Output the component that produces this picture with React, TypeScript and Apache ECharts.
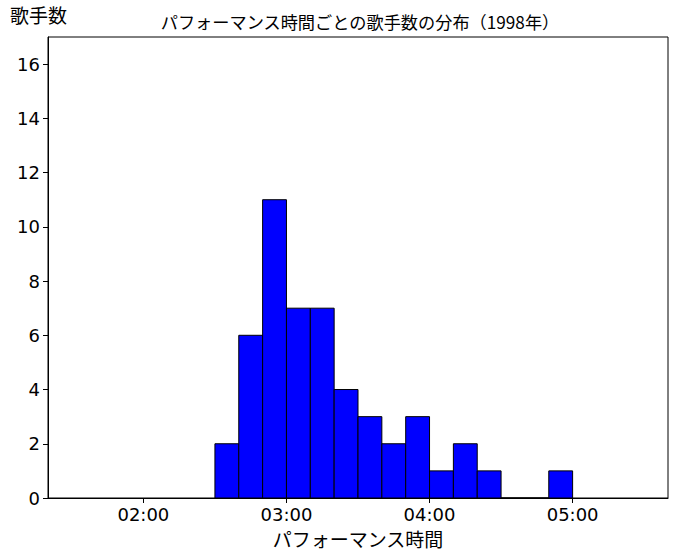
import React, { useEffect, useRef } from "react";
import * as echarts from "echarts";

// histogram bins (seconds) and number of singers per bin
const binStarts = [150, 160, 170, 180, 190, 200, 210, 220, 230, 240, 250, 260, 270, 280, 290];
const binWidth = 10;
const counts = [2, 6, 11, 7, 7, 4, 3, 2, 3, 1, 2, 1, 0, 0, 1];

const xTicks = [120, 180, 240, 300];
const yTicks = [0, 2, 4, 6, 8, 10, 12, 14, 16];

const titleText = "パフォーマンス時間ごとの歌手数の分布（1998年）";
const xName = "パフォーマンス時間";
const yName = "歌手数";

const jpFont = "'Noto Sans CJK JP', sans-serif";
const numFont = "'DejaVu Sans', sans-serif";

const fmtTime = (v: number) => {
  const m = Math.floor(v / 60);
  const s = Math.round(v % 60);
  return String(m).padStart(2, "0") + ":" + String(s).padStart(2, "0");
};

const App: React.FC = () => {
  const chartRef = useRef<HTMLDivElement>(null);

  useEffect(() => {
    document.body.style.margin = "0";
    if (!chartRef.current) return;
    const chart = echarts.init(chartRef.current, null, { renderer: "svg" });

    const data = binStarts.map((s, i) => [s, s + binWidth, counts[i]]);

    chart.setOption({
      animation: false,
      backgroundColor: "#fff",
      title: {
        text: titleText,
        left: 360,
        textAlign: "center",
        top: 13,
        padding: 0,
        textStyle: { fontFamily: jpFont, fontSize: 17.2, fontWeight: "normal", color: "#000" },
      },
      graphic: [
        {
          type: "text",
          left: 10,
          top: 5,
          style: { text: yName, font: `19px ${jpFont}`, fill: "#000" },
        },
      ],
      grid: {
        left: 48,
        right: 10,
        top: 37,
        bottom: 62,
        show: true,
        borderColor: "#000",
        borderWidth: 1,
      },
      xAxis: {
        type: "value",
        min: 80,
        max: 340,
        name: xName,
        nameLocation: "middle",
        nameGap: 31,
        nameTextStyle: { fontFamily: jpFont, fontSize: 19, color: "#000" },
        splitLine: { show: false },
        axisLine: { show: true, lineStyle: { color: "#000", width: 1 } },
        axisTick: { show: true, customValues: xTicks, length: 5, lineStyle: { color: "#000" } },
        axisLabel: {
          customValues: xTicks,
          formatter: (v: number) => fmtTime(v),
          fontFamily: numFont,
          fontSize: 18,
          color: "#000",
          margin: 7,
        },
      },
      yAxis: {
        type: "value",
        min: 0,
        max: 17,
        splitLine: { show: false },
        axisLine: { show: true, lineStyle: { color: "#000", width: 1 } },
        axisTick: { show: true, customValues: yTicks, length: 5, lineStyle: { color: "#000" } },
        axisLabel: {
          customValues: yTicks,
          fontFamily: numFont,
          fontSize: 18,
          color: "#000",
          margin: 8,
        },
      },
      series: [
        {
          type: "custom",
          data,
          encode: { x: [0, 1], y: 2 },
          renderItem: (params: any, api: any) => {
            const p0 = api.coord([api.value(0), api.value(2)]);
            const p1 = api.coord([api.value(1), 0]);
            return {
              type: "rect",
              shape: { x: p0[0], y: p0[1], width: p1[0] - p0[0], height: p1[1] - p0[1] },
              style: { fill: "#0000ff", stroke: "#000", lineWidth: 1 },
            };
          },
        },
      ],
    });

    return () => {
      chart.dispose();
    };
  }, []);

  return <div ref={chartRef} style={{ width: "678px", height: "560px" }} />;
};

export default App;
